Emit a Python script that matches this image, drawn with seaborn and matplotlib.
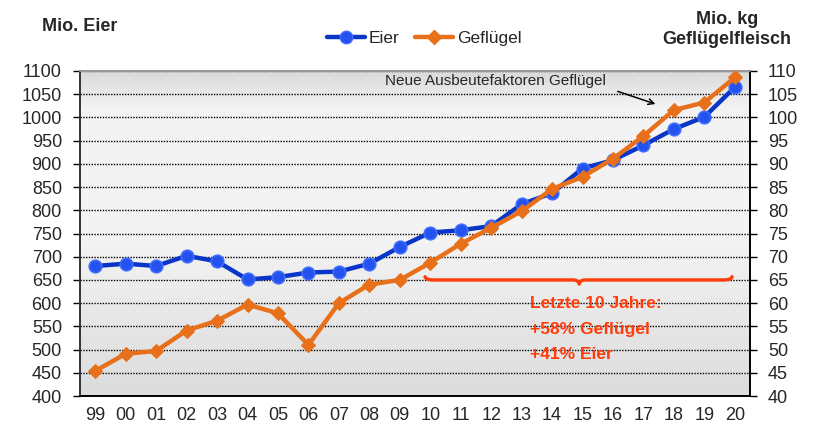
import numpy as np
import matplotlib
matplotlib.use("Agg")
import matplotlib.pyplot as plt
from matplotlib.path import Path
from matplotlib.patches import PathPatch
import seaborn as sns

# data
years = ['99', '00', '01', '02', '03', '04', '05', '06', '07', '08', '09',
         '10', '11', '12', '13', '14', '15', '16', '17', '18', '19', '20']
eier = [680, 685, 680, 702, 690, 651, 656, 666, 668, 685, 721,
        752, 757, 766, 813, 837, 890, 908, 940, 975, 1001, 1065]
gefluegel = [45.4, 49.1, 49.7, 54.1, 56.2, 59.7, 57.8, 51.0, 60.0, 64.0, 65.0,
             68.7, 72.8, 76.2, 79.8, 84.6, 87.2, 91.1, 96.0, 101.6, 103.2, 108.6]

left_ticks = list(range(400, 1101, 50))
right_ticks = list(range(40, 111, 5))

BLUE = '#0a36c8'
ORANGE = '#e8701a'
RED = '#ff3c0a'

sns.set_style('white')
plt.rcParams['font.family'] = ['Liberation Sans', 'DejaVu Sans']

fig = plt.figure(figsize=(8.14, 4.29), dpi=100)
ax = fig.add_axes([0.0983, 0.0769, 0.8231, 0.7576])
ax2 = ax.twinx()

idx = np.arange(len(years))

# gray gradient background
grad = np.concatenate([np.linspace(0.85, 0.95, 12), np.full(40, 0.95),
                       np.linspace(0.95, 0.86, 48)])[:, None]
ax.imshow(grad, aspect='auto', extent=[0, 1, 0, 1], transform=ax.transAxes,
          cmap='gray', vmin=0, vmax=1, zorder=0, origin='upper')

sns.lineplot(x=idx, y=eier, ax=ax, color=BLUE, lw=3.2, marker='o',
             markersize=9, markerfacecolor='#2352ee', markeredgecolor='#3f6cff',
             markeredgewidth=1.2, zorder=3)
sns.lineplot(x=idx, y=gefluegel, ax=ax2, color=ORANGE, lw=3.2, marker='D',
             markersize=7, markerfacecolor=ORANGE, markeredgecolor=ORANGE, zorder=3)

for a in (ax, ax2):
    a.set_xlim(-0.5, len(years) - 0.5)
ax.set_ylim(400, 1100)
ax2.set_ylim(40, 110)
ax.set_yticks(left_ticks)
ax2.set_yticks(right_ticks)

# tick marks between the years, labels centred on them
ax.set_xticks(np.arange(-0.5, len(years) + 0.5))
ax.set_xticklabels([])
ax.set_xticks(idx, years, minor=True)
ax.tick_params(axis='x', which='major', direction='inout', length=9, width=1, color='black')
ax.tick_params(axis='x', which='minor', length=0, pad=8, labelsize=13)
ax.tick_params(axis='y', direction='out', length=5, width=1, color='black', pad=8, labelsize=13)
ax2.tick_params(axis='y', direction='out', length=5, width=1, color='black', pad=8, labelsize=13)

ax.yaxis.grid(True, linestyle=(0, (1, 1)), color='black', lw=1.0)
ax.set_axisbelow(True)
ax.set_xlabel('')
ax.set_ylabel('')
ax2.set_ylabel('')

for a in (ax, ax2):
    a.spines['left'].set_color('#333333')
    a.spines['bottom'].set_color('black')
    a.spines['right'].set_color('black')
    a.spines['top'].set_color('#999999')
    for s in a.spines.values():
        s.set_linewidth(1.2)

# legend
handles = [plt.Line2D([], [], color=BLUE, lw=3.2, marker='o', markersize=9,
                      markerfacecolor='#2352ee', markeredgecolor='#3f6cff'),
           plt.Line2D([], [], color=ORANGE, lw=3.2, marker='D', markersize=7)]
fig.legend(handles, ['Eier', 'Geflügel'], loc='center', bbox_to_anchor=(0.521, 0.911),
           ncol=2, frameon=False, fontsize=12.5, handlelength=2.2,
           handletextpad=0.2, columnspacing=0.9)

# axis titles
fig.text(0.0516, 0.939, 'Mio. Eier', fontsize=13, fontweight='bold', ha='left', va='center')
fig.text(0.893, 0.932, 'Mio. kg\nGeflügelfleisch', fontsize=13, fontweight='bold',
         ha='center', va='center', linespacing=1.25)

# annotation
ax2.text(9.52, 107.8, 'Neue Ausbeutefaktoren Geflügel', fontsize=11, ha='left', va='center')
ax2.annotate('', xy=(18.48, 102.7), xytext=(17.07, 105.8),
             arrowprops=dict(arrowstyle='->', color='black', lw=1.1))

# brace over the last ten years
i0 = years.index('10') - 0.17
im = years.index('15') - 0.11
i1 = years.index('20') - 0.09
yb = 65.0
verts = [(i0, yb + 0.7), (i0, yb), (i0 + 0.3, yb),
         (im - 0.2, yb), (im - 0.02, yb), (im, yb - 0.9),
         (im + 0.02, yb), (im + 0.2, yb),
         (i1 - 0.3, yb), (i1, yb), (i1, yb + 0.7)]
codes = [Path.MOVETO, Path.CURVE3, Path.CURVE3,
         Path.LINETO, Path.CURVE3, Path.CURVE3,
         Path.CURVE3, Path.CURVE3,
         Path.LINETO, Path.CURVE3, Path.CURVE3]
ax2.add_patch(PathPatch(Path(verts, codes), fill=False, edgecolor=RED, lw=2.4,
                        capstyle='round', joinstyle='round', zorder=4))

for y, s in zip([59.9, 54.3, 48.9], ['Letzte 10 Jahre:', '+58% Geflügel', '+41% Eier']):
    ax2.text(14.28, y, s, color=RED, fontsize=12.5, fontweight='bold', ha='left', va='center')

fig.savefig('out.png', dpi=100)
